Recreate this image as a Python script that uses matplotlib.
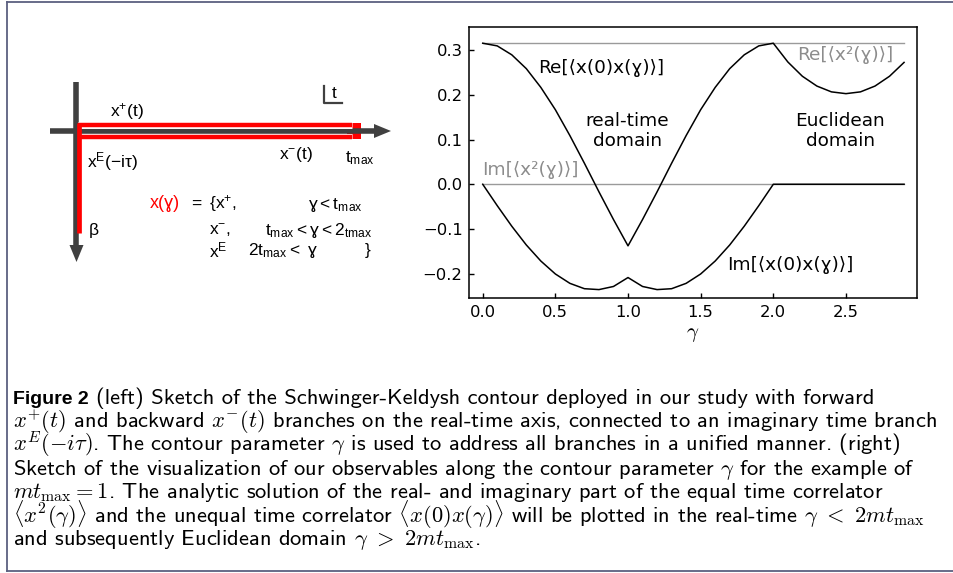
import matplotlib
matplotlib.use('Agg')
import matplotlib.pyplot as plt
from matplotlib.patches import Rectangle

plt.rcParams['mathtext.fontset'] = 'cm'

# values
gamma = [0.0, 0.1, 0.2, 0.3, 0.4, 0.5, 0.6, 0.7, 0.8, 0.9,
         1.0, 1.1, 1.2, 1.3, 1.4, 1.5, 1.6, 1.7, 1.8, 1.9,
         2.0, 2.1, 2.2, 2.3, 2.4, 2.5, 2.6, 2.7, 2.8, 2.9]
re_x0xg = [0.316, 0.310, 0.290, 0.259, 0.217, 0.167, 0.109, 0.047, -0.017, -0.079,
           -0.138, -0.079, -0.017, 0.047, 0.109, 0.167, 0.217, 0.259, 0.290, 0.310,
           0.316, 0.274, 0.242, 0.220, 0.207, 0.203, 0.207, 0.220, 0.242, 0.273]
im_x0xg = [0.0, -0.048, -0.094, -0.136, -0.172, -0.201, -0.222, -0.234, -0.236, -0.229,
           -0.209, -0.229, -0.236, -0.234, -0.222, -0.201, -0.172, -0.136, -0.094, -0.048,
           0.0, 0.0, 0.0, 0.0, 0.0, 0.0, 0.0, 0.0, 0.0, 0.0]
gamma_x2 = [0.0, 2.9]
re_x2 = [0.316, 0.316]
im_x2 = [0.0, 0.0]
xticks = [0.0, 0.5, 1.0, 1.5, 2.0, 2.5]
yticks = [-0.2, -0.1, 0.0, 0.1, 0.2, 0.3]

caption_head = 'Figure 2'
caption_first = '(left) Sketch of the Schwinger-Keldysh contour deployed in our study with forward'
caption = [
    r'$x^{+}(t)$ and backward $x^{-}(t)$ branches on the real-time axis, connected to an imaginary time branch',
    r'$x^{E}(-i\tau)$. The contour parameter $\gamma$ is used to address all branches in a unified manner. (right)',
    r'Sketch of the visualization of our observables along the contour parameter $\gamma$ for the example of',
    r'$mt_{\max} = 1$. The analytic solution of the real- and imaginary part of the equal time correlator',
    r'$\langle x^{2}(\gamma)\rangle$ and the unequal time correlator $\langle x(0)x(\gamma)\rangle$ will be plotted in the real-time $\gamma\ <\ 2mt_{\max}$',
    r'and subsequently Euclidean domain $\gamma\ >\ 2mt_{\max}$.',
]

W, H = 954, 573
fig = plt.figure(figsize=(W / 100, H / 100), dpi=100)

# overlay in pixel coordinates for the sketch, caption and frame
sk = fig.add_axes([0, 0, 1, 1])
sk.set_xlim(0, W)
sk.set_ylim(H, 0)
sk.axis('off')

frame = '#5c6080'
sk.plot([7.5, 7.5], [1.5, 570.5], color=frame, lw=1.3)
sk.plot([7.5, W], [1.5, 1.5], color=frame, lw=1.3)
sk.plot([7.5, W], [570.5, 570.5], color=frame, lw=1.3)

# contour sketch
dark = '#404040'
sk.plot([76.5, 76.5], [82, 247], color=dark, lw=4, solid_capstyle='butt')
sk.fill([69.5, 83.5, 76.5], [245, 245, 262], color=dark, lw=0)
sk.plot([50, 376], [131, 131], color=dark, lw=4, solid_capstyle='butt')
sk.fill([374, 374, 391], [124, 138, 131], color=dark, lw=0)

for yy in [125, 137]:
    sk.plot([78, 352], [yy, yy], color='white', lw=5, solid_capstyle='butt')
    sk.plot([78, 352], [yy, yy], color='red', lw=3.2, solid_capstyle='butt')
sk.plot([79.5, 79.5], [123, 233], color='red', lw=3.4, solid_capstyle='butt')
sk.add_patch(Rectangle((347, 123), 14, 16, color='red', lw=0))

sk.plot([324, 324, 342], [86, 103, 103], color=dark, lw=1.6)

fam = ['Liberation Sans', 'DejaVu Sans']
fs = 12.5
sk.text(334, 93, 't', fontsize=fs, family=fam, ha='center', va='center')
sk.text(110, 111, r'$\mathregular{x^{+}(t)}$', fontsize=fs, family=fam, va='center')
sk.text(279, 154, r'$\mathregular{x^{-}(t)}$', fontsize=fs, family=fam, va='center')
sk.text(345, 158, r'$\mathregular{t_{max}}$', fontsize=fs, family=fam, va='center')
sk.text(87, 162, r'$\mathregular{x^{E}(-iτ)}$', fontsize=fs, family=fam, va='center')
sk.text(89, 230, 'β', fontsize=fs, family=fam, va='center')
sk.text(150, 203, 'x(ɣ)', fontsize=13, family=fam, va='center', color='red')
sk.text(188, 203, r'$\mathregular{=\ \{x^{+},}$', fontsize=fs, family=fam, va='center')
sk.text(308, 205, r'$\mathregular{ɣ{<}t_{max}}$', fontsize=fs, family=fam, va='center')
sk.text(209, 230, r'$\mathregular{x^{-},}$', fontsize=fs, family=fam, va='center')
sk.text(265, 230, r'$\mathregular{t_{max}{<}ɣ{<}2_{tmax}}$', fontsize=fs, family=fam, va='center')
sk.text(209, 250, r'$\mathregular{x^{E}}$', fontsize=fs, family=fam, va='center')
sk.text(248, 250, r'$\mathregular{2t_{max}{<}\ ɣ}$', fontsize=fs, family=fam, va='center')
sk.text(365, 250, '}', fontsize=fs, family=fam, va='center')

# caption
cfs = 16.2
head = sk.text(13, 404, caption_head, fontsize=14, family=fam, weight='bold', va='baseline')
bb = head.get_window_extent(fig.canvas.get_renderer())
sk.text(bb.x1 + 7, 404, caption_first, fontsize=cfs, family='cmss10', va='baseline')
for i, line in enumerate(caption):
    sk.text(13, 428 + i * 23.4, line, fontsize=cfs, family='cmss10', va='baseline')

# right panel
ax = fig.add_axes([469.5 / W, 1 - 298.3 / H, 447.2 / W, 271.6 / H])
ax.plot(gamma_x2, re_x2, color='#9a9a9a', lw=1.0)
ax.plot(gamma_x2, im_x2, color='#9a9a9a', lw=1.0)
ax.plot(gamma, re_x0xg, color='black', lw=1.1)
ax.plot(gamma, im_x0xg, color='black', lw=1.1)
ax.set_xlim(-0.091, 2.987)
ax.set_ylim(-0.2555, 0.353)
ax.set_xticks(xticks)
ax.set_yticks(yticks)
ax.tick_params(direction='in', length=3.5, width=1, labelsize=11.8, pad=5,
               top=False, right=False)
for s in ax.spines.values():
    s.set_linewidth(1.1)
ax.set_xlabel(r'$\gamma$', fontsize=15, labelpad=3)

afs = 13.3
ax.text(0.814, 0.26, 'Re[⟨x(0)x(ɣ)⟩]', fontsize=afs, ha='center', va='center')
ax.text(2.116, -0.181, 'Im[⟨x(0)x(ɣ)⟩]', fontsize=afs, ha='center', va='center')
ax.text(0.995, 0.12, 'real-time\ndomain', fontsize=afs, ha='center', va='center', linespacing=1.15)
ax.text(2.46, 0.12, 'Euclidean\ndomain', fontsize=afs, ha='center', va='center', linespacing=1.15)
ax.text(2.493, 0.29, 'Re[⟨x²(ɣ)⟩]', fontsize=afs, ha='center', va='center', color='#8c8c8c')
ax.text(0.33, 0.031, 'Im[⟨x²(ɣ)⟩]', fontsize=afs, ha='center', va='center', color='#8c8c8c')

fig.savefig('out.png', dpi=100)
